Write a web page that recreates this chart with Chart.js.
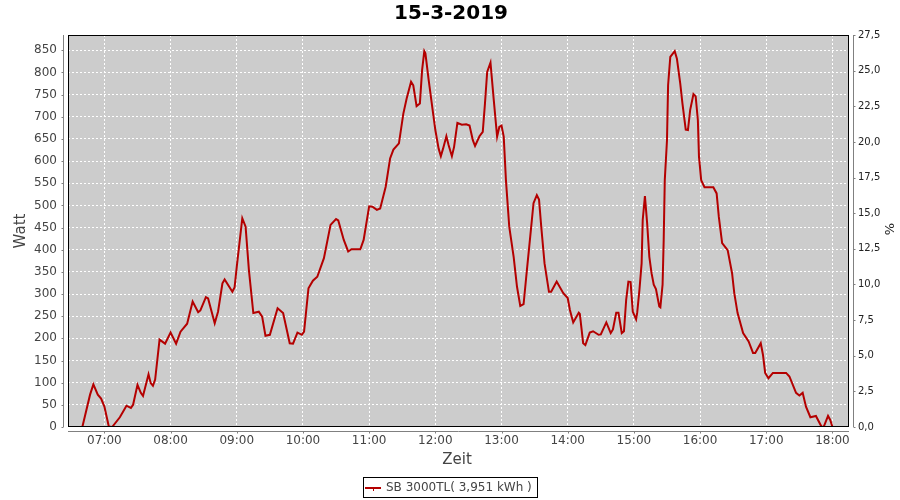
<!DOCTYPE html>
<html><head><meta charset="utf-8">
<script src="https://cdn.jsdelivr.net/npm/chart.js@4"></script>
<style>html,body{margin:0;padding:0;background:#fff}#wrap{width:900px;height:500px}</style>
</head><body><div id="wrap"><canvas id="c" width="900" height="500"></canvas></div>
<script>
const chartTitle = '15-3-2019';
const seriesLabel = 'SB 3000TL( 3,951 kWh )';
const leftTitle = 'Watt';
const rightTitle = '%';
const bottomTitle = 'Zeit';

const times = ['06:40','06:47','06:50','06:54','06:57','07:00','07:04','07:07','07:14','07:20','07:24','07:26','07:30','07:33','07:35','07:40','07:42','07:44','07:46','07:50','07:55','08:00','08:05','08:09','08:15','08:20','08:25','08:27','08:32','08:34','08:40','08:43','08:47','08:49','08:56','08:58','09:00','09:05','09:08','09:11','09:15','09:20','09:23','09:26','09:30','09:37','09:42','09:48','09:51','09:55','09:59','10:01','10:05','10:09','10:13','10:19','10:25','10:30','10:32','10:37','10:41','10:44','10:52','10:55','11:00','11:03','11:07','11:10','11:15','11:19','11:22','11:27','11:31','11:34','11:38','11:40','11:43','11:46','11:48','11:50','11:51','11:54','11:58','12:00','12:03','12:05','12:07','12:10','12:12','12:15','12:17','12:20','12:24','12:28','12:31','12:34','12:36','12:40','12:43','12:45','12:47','12:50','12:53','12:56','12:58','13:00','13:02','13:04','13:07','13:11','13:14','13:17','13:20','13:23','13:26','13:29','13:32','13:34','13:36','13:39','13:43','13:45','13:50','13:56','14:00','14:02','14:05','14:10','14:11','14:14','14:16','14:20','14:23','14:28','14:30','14:35','14:39','14:41','14:44','14:46','14:49','14:51','14:53','14:55','14:57','14:59','15:02','15:03','15:05','15:07','15:08','15:10','15:12','15:14','15:16','15:18','15:20','15:23','15:24','15:26','15:27','15:28','15:30','15:31','15:33','15:37','15:39','15:42','15:44','15:47','15:49','15:51','15:54','15:56','15:58','15:59','16:01','16:04','16:12','16:15','16:17','16:20','16:25','16:29','16:31','16:34','16:39','16:44','16:48','16:50','16:55','16:57','16:59','17:02','17:06','17:18','17:21','17:27','17:30','17:33','17:36','17:40','17:45','17:50','17:52','17:56','17:58','18:00'];
const watts = [0,73,96,73,64,46,1,0,22,48,43,50,95,77,70,119,99,93,107,197,188,213,188,215,233,283,259,263,293,290,234,260,324,333,305,315,362,471,452,354,257,260,249,206,208,268,257,189,188,213,208,215,313,330,339,381,456,469,466,422,396,401,401,422,498,497,490,493,542,606,626,640,707,741,779,771,724,730,805,848,843,782,707,670,628,611,628,656,636,611,632,686,682,683,680,647,634,656,666,730,801,822,737,655,677,680,655,557,452,384,317,273,277,354,429,505,523,513,452,369,305,305,328,302,291,264,236,258,255,189,185,213,216,208,209,236,212,220,258,258,212,216,287,328,327,260,243,258,309,369,467,521,460,384,347,321,311,272,270,321,420,557,647,771,835,848,831,775,730,671,670,715,751,746,692,610,557,541,541,527,474,415,399,347,302,257,212,193,167,167,189,163,122,110,122,122,114,77,71,77,46,22,25,1,0,25,16,0];

const hourTicks = ['07:00','08:00','09:00','10:00','11:00','12:00','13:00','14:00','15:00','16:00','17:00','18:00'];
const wattTicks = [0,50,100,150,200,250,300,350,400,450,500,550,600,650,700,750,800,850];
const pctTicks = [0,2.5,5,7.5,10,12.5,15,17.5,20,22.5,25,27.5];
const xRange = ['06:27','18:15'];
const wattMax = 884.4;
const pctMax = 27.5;

const toMin = s => { const p = s.split(':').map(Number); return p[0]*60 + p[1]; };
const fmtHM = v => { const h = Math.floor(v/60), m = Math.round(v%60); return String(h).padStart(2,'0')+':'+String(m).padStart(2,'0'); };
const points = times.map((t,i) => ({x: toMin(t), y: watts[i]}));

const FONT = 'DejaVu Sans';
const AXIS_GRAY = '#808080';
const TXT = '#444444';

const decor = {
  id: 'decor',
  beforeDraw(chart) {
    const {ctx, chartArea: a} = chart;
    ctx.save();
    ctx.fillStyle = '#ffffff';
    ctx.fillRect(0, 0, chart.width, chart.height);
    ctx.fillStyle = '#cccccc';
    ctx.fillRect(a.left, a.top, a.right - a.left, a.bottom - a.top);
    ctx.restore();
  },
  afterDraw(chart) {
    const {ctx, chartArea: a, scales} = chart;
    ctx.save();
    ctx.strokeStyle = '#000';
    ctx.lineWidth = 1;
    ctx.strokeRect(a.left + 0.5, a.top + 0.5, a.right - a.left - 1, a.bottom - a.top - 1);
    ctx.strokeStyle = AXIS_GRAY;
    ctx.beginPath();
    const lx = a.left - 4.5, rx = a.right + 4.5, by = a.bottom + 4.5;
    ctx.moveTo(lx, a.top); ctx.lineTo(lx, a.bottom);
    scales.y.ticks.forEach(t => { const y = Math.round(scales.y.getPixelForValue(t.value)) + 0.5; ctx.moveTo(lx - 2, y); ctx.lineTo(lx, y); });
    ctx.moveTo(rx, a.top); ctx.lineTo(rx, a.bottom);
    scales.y2.ticks.forEach(t => { const y = Math.round(scales.y2.getPixelForValue(t.value)) + 0.5; ctx.moveTo(rx, y); ctx.lineTo(rx + 2, y); });
    ctx.moveTo(a.left, by); ctx.lineTo(a.right, by);
    scales.x.ticks.forEach(t => { const x = Math.round(scales.x.getPixelForValue(t.value)) + 0.5; ctx.moveTo(x, by); ctx.lineTo(x, by + 2); });
    ctx.stroke();
    ctx.fillStyle = '#000';
    ctx.font = 'bold 20px "' + FONT + '"';
    ctx.textAlign = 'center'; ctx.textBaseline = 'middle';
    ctx.fillText(chartTitle, 451, 13.5);
    ctx.fillStyle = TXT;
    ctx.font = '15px "' + FONT + '"';
    ctx.fillText(bottomTitle, 457, 460);
    ctx.save(); ctx.translate(21, 231); ctx.rotate(-Math.PI/2); ctx.fillText(leftTitle, 0, 0); ctx.restore();
    ctx.fillStyle = '#222';
    ctx.font = '13px "' + FONT + '"';
    ctx.save(); ctx.translate(891, 229); ctx.rotate(-Math.PI/2); ctx.fillText(rightTitle, 0, 0); ctx.restore();
    const ds = chart.data.datasets[0];
    ctx.strokeStyle = '#000'; ctx.lineWidth = 1;
    ctx.strokeRect(363.5, 477.5, 174, 20);
    ctx.strokeStyle = ds.borderColor; ctx.lineWidth = 2;
    ctx.beginPath(); ctx.moveTo(365, 488); ctx.lineTo(381, 488); ctx.stroke();
    ctx.lineWidth = 1;
    ctx.beginPath(); ctx.moveTo(373.5, 488); ctx.lineTo(373.5, 491); ctx.stroke();
    ctx.fillStyle = TXT; ctx.font = '12px "' + FONT + '"';
    ctx.textAlign = 'left'; ctx.textBaseline = 'middle';
    ctx.fillText(ds.label, 386, 488);
    ctx.restore();
  }
};

new Chart(document.getElementById('c'), {
  type: 'line',
  data: { datasets: [{ label: seriesLabel, data: points, borderColor: '#b40000', borderWidth: 2, pointRadius: 0, tension: 0, fill: false, yAxisID: 'y' }] },
  options: {
    responsive: false, animation: false, devicePixelRatio: 1,
    layout: { padding: { top: 35, left: 0, right: 0, bottom: 0 } },
    plugins: { legend: { display: false }, title: { display: false }, tooltip: { enabled: false } },
    scales: {
      x: {
        type: 'linear', min: toMin(xRange[0]), max: toMin(xRange[1]),
        afterBuildTicks: s => { s.ticks = hourTicks.map(h => ({ value: toMin(h) })); },
        afterFit: s => { s.height = 73; },
        grid: { color: '#ffffff', lineWidth: 1, drawTicks: false },
        border: { display: false, dash: [2, 2] },
        ticks: { color: TXT, font: { family: FONT, size: 12 }, padding: 7, maxRotation: 0, autoSkip: false, callback: v => fmtHM(v) }
      },
      y: {
        position: 'left', min: 0, max: wattMax,
        afterBuildTicks: s => { s.ticks = wattTicks.map(v => ({ value: v })); },
        afterFit: s => { s.width = 68; },
        grid: { color: '#ffffff', lineWidth: 1, drawTicks: false },
        border: { display: false, dash: [2, 2] },
        ticks: { color: TXT, font: { family: FONT, size: 12 }, padding: 11, autoSkip: false, callback: v => String(v) }
      },
      y2: {
        position: 'right', min: 0, max: pctMax,
        afterBuildTicks: s => { s.ticks = pctTicks.map(v => ({ value: v })); },
        afterFit: s => { s.width = 51; },
        grid: { display: false, drawOnChartArea: false, drawTicks: false },
        border: { display: false },
        ticks: { color: '#222', font: { family: FONT, size: 10 }, padding: 9, autoSkip: false, callback: v => v.toFixed(1).replace('.', ',') }
      }
    }
  },
  plugins: [decor]
});
</script>
</body></html>
